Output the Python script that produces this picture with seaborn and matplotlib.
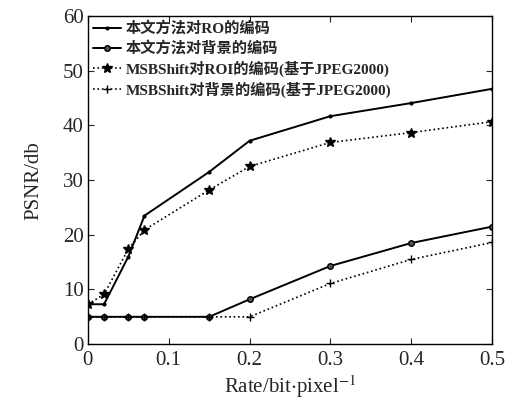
import matplotlib
matplotlib.use('Agg')
import matplotlib.pyplot as plt
import seaborn as sns
import pandas as pd

# data
rate = [0, 0.02, 0.05, 0.07, 0.15, 0.2, 0.3, 0.4, 0.5]
ours_roi = [7.3, 7.3, 16.0, 23.5, 31.5, 37.2, 41.7, 44.1, 46.7]
ours_bg = [5.0, 5.0, 5.0, 5.0, 5.0, 8.2, 14.3, 18.5, 21.5]
msb_roi = [7.3, 9.1, 17.4, 20.9, 28.2, 32.5, 36.9, 38.7, 40.7]
msb_bg = [5.0, 5.0, 5.0, 5.0, 5.0, 5.0, 11.1, 15.5, 18.6]

labels = ['本文方法对RO的编码', '本文方法对背景的编码',
          'MSBShift对ROI的编码(基于JPEG2000)', 'MSBShift对背景的编码(基于JPEG2000)']
xticks = [0, 0.1, 0.2, 0.3, 0.4, 0.5]
yticks = [0, 10, 20, 30, 40, 50, 60]

sns.set_style('ticks')
plt.rcParams['font.family'] = ['Liberation Serif', 'Noto Sans CJK SC', 'DejaVu Sans']
plt.rcParams['mathtext.fontset'] = 'stix'
plt.rcParams['xtick.direction'] = 'in'
plt.rcParams['ytick.direction'] = 'in'

fig = plt.figure(figsize=(5.11, 4.03), dpi=100)
ax = fig.add_axes([0.172, 0.146, 0.791, 0.814])

estilos = [
    (ours_roi, '-', '.', 4, 1.4),
    (ours_bg, '-', 'o', 4, 1.4),
    (msb_roi, ':', '*', 7, 1.2),
    (msb_bg, ':', '+', 6, 1.2),
]
for (vals, ls, mk, ms, lw), lab in zip(estilos, labels):
    df = pd.DataFrame({'rate': rate, 'psnr': vals})
    sns.lineplot(data=df, x='rate', y='psnr', ax=ax, color='black', linestyle=ls,
                 marker=mk, markersize=ms, linewidth=lw, label=lab,
                 markerfacecolor='#555555' if mk == 'o' else 'black',
                 markeredgecolor='black', markeredgewidth=1.0)

ax.set_xlim(0, 0.5)
ax.set_ylim(0, 60)
ax.set_xticks(xticks)
ax.set_xticklabels(['0', '0.1', '0.2', '0.3', '0.4', '0.5'])
ax.set_yticks(yticks)
ax.tick_params(labelsize=15, length=4, top=True, right=True, width=0.8)
ax.tick_params(axis='x', pad=5)
ax.tick_params(axis='y', pad=3)
for s in ax.spines.values():
    s.set_linewidth(1.0)
    s.set_color('black')
ax.set_xlabel(r'Rate/bit$\cdot$pixel$^{-1}$', fontsize=15, labelpad=2)
ax.set_ylabel('PSNR/db', fontsize=15, labelpad=14)

leg = ax.legend(loc='upper left', frameon=False, fontsize=11, handlelength=1.8,
                handletextpad=0.3, labelspacing=0.3, borderaxespad=0.1,
                borderpad=0.25)
for t in leg.get_texts():
    t.set_fontweight('bold')

fig.savefig('out.png', dpi=100)
